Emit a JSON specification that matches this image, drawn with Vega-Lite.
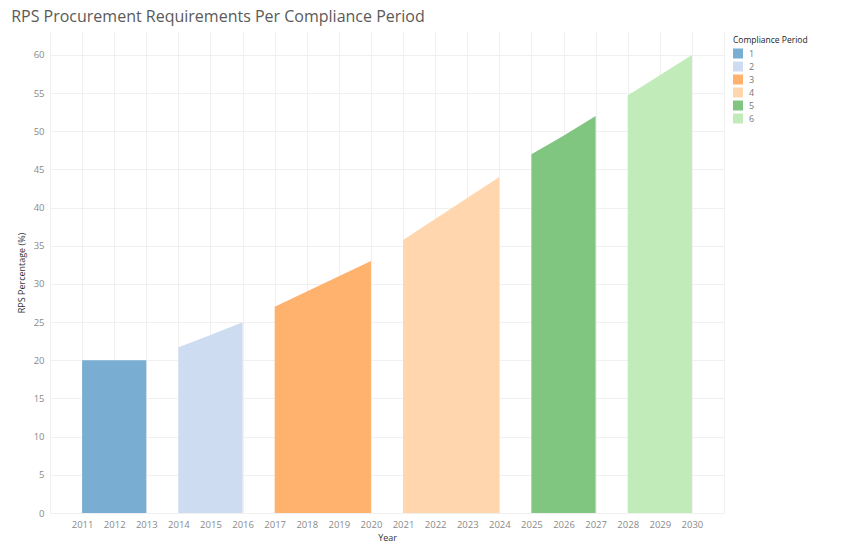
{
  "$schema": "https://vega.github.io/schema/vega-lite/v6.json",
  "width": 674,
  "height": 481,
  "autosize": {"type": "none"},
  "padding": {"left": 50, "top": 32, "right": 121, "bottom": 39},
  "background": "white",
  "title": {
    "text": "RPS Procurement Requirements Per Compliance Period",
    "anchor": "start",
    "frame": "bounds",
    "dx": -6,
    "offset": 7,
    "fontSize": 16,
    "font": "Open Sans",
    "fontWeight": "normal",
    "color": "#5a5a5a"
  },
  "data": {
    "values": [
      {"Year": 2011, "Period": "1", "RPS": 20},
      {"Year": 2012, "Period": "1", "RPS": 20},
      {"Year": 2013, "Period": "1", "RPS": 20},
      {"Year": 2014, "Period": "2", "RPS": 21.7},
      {"Year": 2015, "Period": "2", "RPS": 23.3},
      {"Year": 2016, "Period": "2", "RPS": 25},
      {"Year": 2017, "Period": "3", "RPS": 27},
      {"Year": 2018, "Period": "3", "RPS": 29},
      {"Year": 2019, "Period": "3", "RPS": 31},
      {"Year": 2020, "Period": "3", "RPS": 33},
      {"Year": 2021, "Period": "4", "RPS": 35.75},
      {"Year": 2022, "Period": "4", "RPS": 38.5},
      {"Year": 2023, "Period": "4", "RPS": 41.25},
      {"Year": 2024, "Period": "4", "RPS": 44},
      {"Year": 2025, "Period": "5", "RPS": 47},
      {"Year": 2026, "Period": "5", "RPS": 49.4},
      {"Year": 2027, "Period": "5", "RPS": 52},
      {"Year": 2028, "Period": "6", "RPS": 54.67},
      {"Year": 2029, "Period": "6", "RPS": 57.33},
      {"Year": 2030, "Period": "6", "RPS": 60}
    ]
  },
  "mark": {"type": "area", "opacity": 1, "interpolate": "linear"},
  "encoding": {
    "x": {
      "field": "Year",
      "type": "quantitative",
      "scale": {"domain": [2010, 2031], "nice": false, "zero": false},
      "axis": {
        "values": [2010, 2011, 2012, 2013, 2014, 2015, 2016, 2017, 2018, 2019, 2020, 2021, 2022, 2023, 2024, 2025, 2026, 2027, 2028, 2029, 2030, 2031],
        "labelExpr": "datum.value == 2010 || datum.value == 2031 ? '' : datum.value",
        "format": "d",
        "title": "Year",
        "titleFont": "Open Sans",
        "titleFontSize": 9,
        "titleFontWeight": "normal",
        "titleColor": "#333333",
        "titlePadding": 5,
        "labelFont": "Open Sans",
        "labelFontSize": 9.5,
        "labelColor": "#8a8a8a",
        "labelPadding": 6,
        "domain": false,
        "ticks": false,
        "grid": true,
        "gridColor": "#f0f0f0",
        "labelFlush": false,
        "labelOverlap": false
      }
    },
    "y": {
      "field": "RPS",
      "type": "quantitative",
      "stack": null,
      "scale": {"domain": [0, 63], "nice": false},
      "axis": {
        "values": [0, 5, 10, 15, 20, 25, 30, 35, 40, 45, 50, 55, 60],
        "title": "RPS Percentage (%)",
        "titleFont": "Open Sans",
        "titleFontSize": 9,
        "titleFontWeight": "normal",
        "titleColor": "#333333",
        "titlePadding": 7,
        "labelFont": "Open Sans",
        "labelFontSize": 9.5,
        "labelColor": "#8a8a8a",
        "labelPadding": 6,
        "domain": false,
        "ticks": false,
        "grid": true,
        "gridColor": "#f0f0f0"
      }
    },
    "color": {
      "field": "Period",
      "type": "nominal",
      "scale": {
        "domain": ["1", "2", "3", "4", "5", "6"],
        "range": ["#79add2", "#cedcf1", "#ffb26e", "#ffd6ae", "#80c680", "#c1ecb9"]
      },
      "legend": {
        "title": "Compliance Period",
        "orient": "none",
        "legendX": 683,
        "legendY": 4,
        "titleFont": "Open Sans",
        "titleFontSize": 8.5,
        "titleFontWeight": "normal",
        "titleColor": "#222222",
        "titlePadding": 4,
        "labelFont": "Open Sans",
        "labelFontSize": 9,
        "labelColor": "#777777",
        "symbolType": "square",
        "symbolSize": 100,
        "symbolStrokeWidth": 0,
        "rowPadding": 3,
        "labelOffset": 6
      }
    },
    "detail": {"field": "Period"}
  },
  "config": {
    "view": {"stroke": null}
  }
}
